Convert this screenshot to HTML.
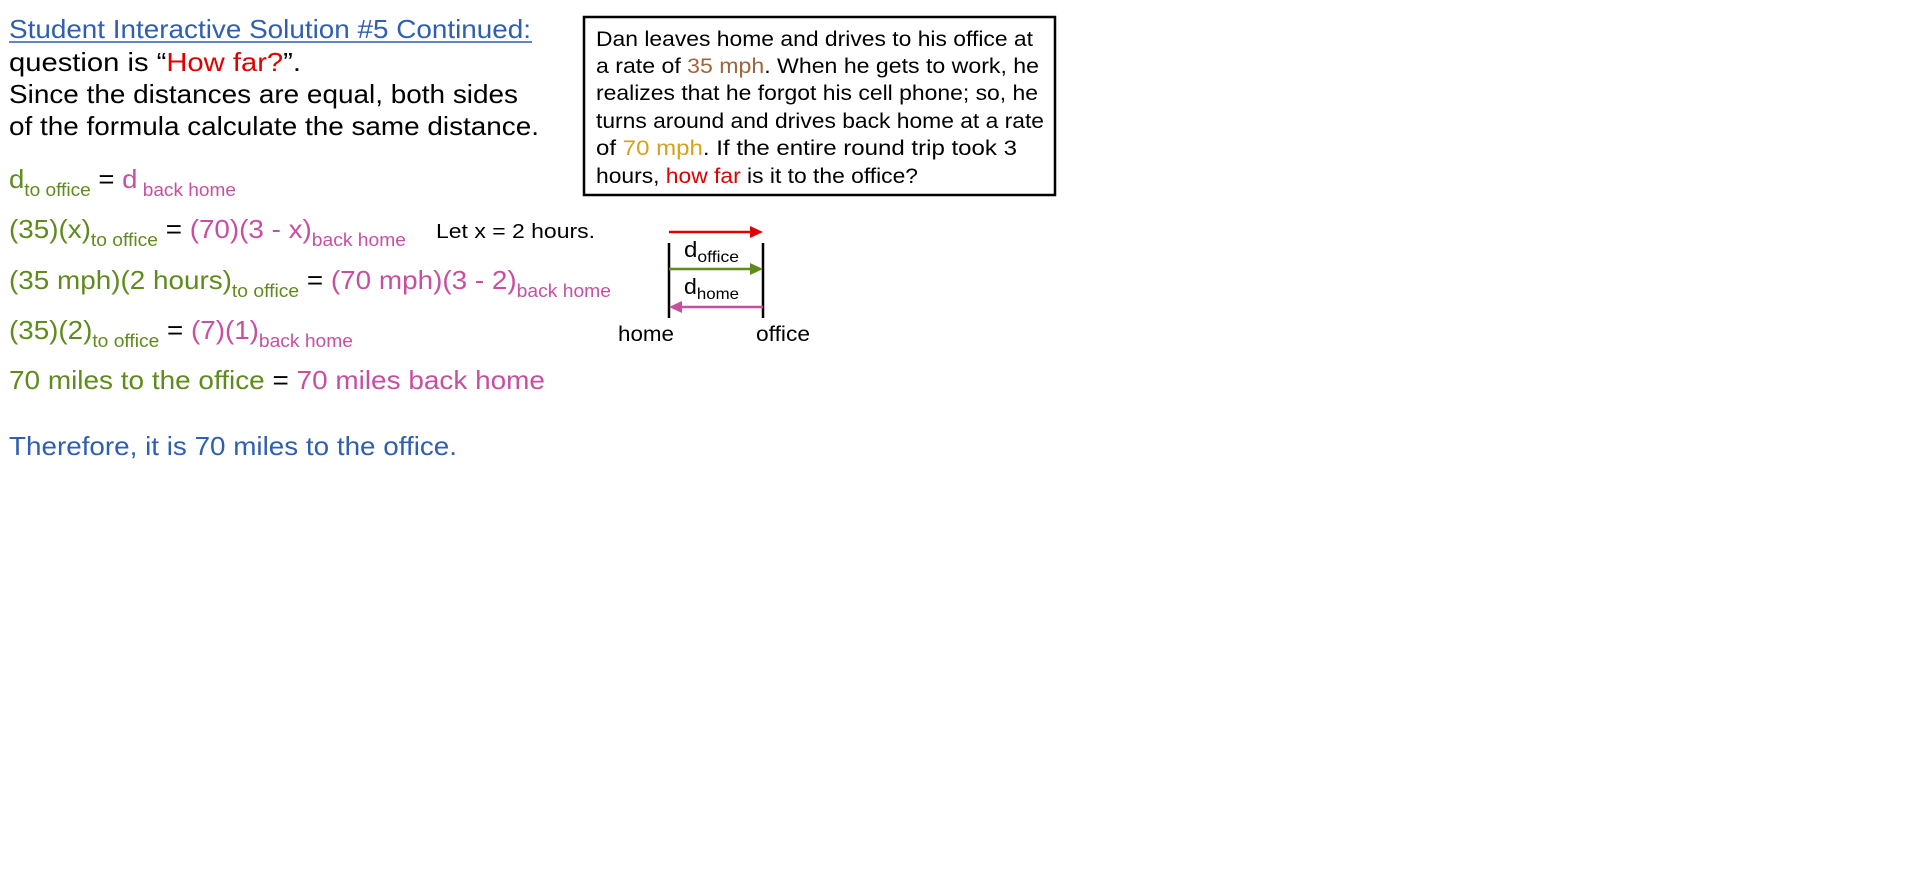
<!DOCTYPE html>
<html><head><meta charset="utf-8"><style>
html,body{margin:0;padding:0;background:#fff;width:1914px;height:872px;overflow:hidden}
svg{display:block}
text{font-family:"Liberation Sans",Arial,sans-serif}
</style></head><body>
<svg width="1914" height="872" xmlns="http://www.w3.org/2000/svg">
<g font-size="26">
<text x="9" y="38" fill="#2f5fae" textLength="522" lengthAdjust="spacingAndGlyphs">Student Interactive Solution #5 Continued:</text>
<line x1="9" y1="42" x2="532" y2="42" stroke="#2f5fae" stroke-width="1.5"/>
<text x="9" y="71" fill="#000" textLength="292" lengthAdjust="spacingAndGlyphs">question is “<tspan fill="#e00000">How far?</tspan>”.</text>
<text x="9" y="103" fill="#000" textLength="509" lengthAdjust="spacingAndGlyphs">Since the distances are equal, both sides</text>
<text x="9" y="135" fill="#000" textLength="530" lengthAdjust="spacingAndGlyphs">of the formula calculate the same distance.</text>

<text x="9" y="188" fill="#5f8b1d" textLength="227" lengthAdjust="spacingAndGlyphs">d<tspan font-size="18" dy="8">to office</tspan><tspan dy="-8" fill="#000"> = </tspan><tspan fill="#c84fa0">d</tspan><tspan font-size="18" dy="8" fill="#c84fa0"> back home</tspan></text>

<text x="9" y="238" fill="#5f8b1d" textLength="397" lengthAdjust="spacingAndGlyphs">(35)(x)<tspan font-size="18" dy="8">to office</tspan><tspan dy="-8" fill="#000"> = </tspan><tspan fill="#c84fa0">(70)(3 - x)</tspan><tspan font-size="18" dy="8" fill="#c84fa0">back home</tspan></text>
<text x="436" y="238" font-size="20" fill="#000" textLength="159" lengthAdjust="spacingAndGlyphs">Let x = 2 hours.</text>

<text x="9" y="289" fill="#5f8b1d" textLength="602" lengthAdjust="spacingAndGlyphs">(35 mph)(2 hours)<tspan font-size="18" dy="8">to office</tspan><tspan dy="-8" fill="#000"> = </tspan><tspan fill="#c84fa0">(70 mph)(3 - 2)</tspan><tspan font-size="18" dy="8" fill="#c84fa0">back home</tspan></text>

<text x="9" y="339" fill="#5f8b1d" textLength="344" lengthAdjust="spacingAndGlyphs">(35)(2)<tspan font-size="18" dy="8">to office</tspan><tspan dy="-8" fill="#000"> = </tspan><tspan fill="#c84fa0">(7)(1)</tspan><tspan font-size="18" dy="8" fill="#c84fa0">back home</tspan></text>

<text x="9" y="389" fill="#5f8b1d" textLength="536" lengthAdjust="spacingAndGlyphs">70 miles to the office<tspan fill="#000"> = </tspan><tspan fill="#c84fa0">70 miles back home</tspan></text>

<text x="9" y="455" fill="#2f5fae" textLength="448" lengthAdjust="spacingAndGlyphs">Therefore, it is 70 miles to the office.</text>
</g>

<rect x="584" y="17" width="471" height="178" fill="none" stroke="#000" stroke-width="2.5"/>
<g font-size="21.5" fill="#000">
<text x="596" y="46" textLength="437" lengthAdjust="spacingAndGlyphs">Dan leaves home and drives to his office at</text>
<text x="596" y="73" textLength="443" lengthAdjust="spacingAndGlyphs">a rate of <tspan fill="#a0643a">35 mph</tspan>.  When he gets to work, he</text>
<text x="596" y="100" textLength="442" lengthAdjust="spacingAndGlyphs">realizes that he forgot his cell phone; so, he</text>
<text x="596" y="128" textLength="448" lengthAdjust="spacingAndGlyphs">turns around and drives back home at a rate</text>
<text x="596" y="155" textLength="421" lengthAdjust="spacingAndGlyphs">of <tspan fill="#d6a21a">70 mph</tspan>.  If the entire round trip took 3</text>
<text x="596" y="183" textLength="322" lengthAdjust="spacingAndGlyphs">hours, <tspan fill="#e00000">how far</tspan> is it to the office?</text>
</g>

<line x1="669" y1="232" x2="752" y2="232" stroke="#e00000" stroke-width="2.5"/>
<polygon points="750,226 763,232 750,238" fill="#e00000"/>
<line x1="669" y1="243" x2="669" y2="318" stroke="#000" stroke-width="2.5"/>
<line x1="763" y1="243" x2="763" y2="318" stroke="#000" stroke-width="2.5"/>
<line x1="669" y1="269" x2="752" y2="269" stroke="#5f8b1d" stroke-width="2.5"/>
<polygon points="750,263 763,269 750,275" fill="#5f8b1d"/>
<line x1="680" y1="307" x2="763" y2="307" stroke="#c84fa0" stroke-width="2.5"/>
<polygon points="682,301 669,307 682,313" fill="#c84fa0"/>
<text x="684" y="257" font-size="22" fill="#000" textLength="55" lengthAdjust="spacingAndGlyphs">d<tspan font-size="16" dy="5">office</tspan></text>
<text x="684" y="294" font-size="22" fill="#000" textLength="55" lengthAdjust="spacingAndGlyphs">d<tspan font-size="16" dy="5">home</tspan></text>
<text x="618" y="341" font-size="21.5" fill="#000" textLength="56" lengthAdjust="spacingAndGlyphs">home</text>
<text x="756" y="341" font-size="21.5" fill="#000" textLength="54" lengthAdjust="spacingAndGlyphs">office</text>
</svg>
</body></html>
